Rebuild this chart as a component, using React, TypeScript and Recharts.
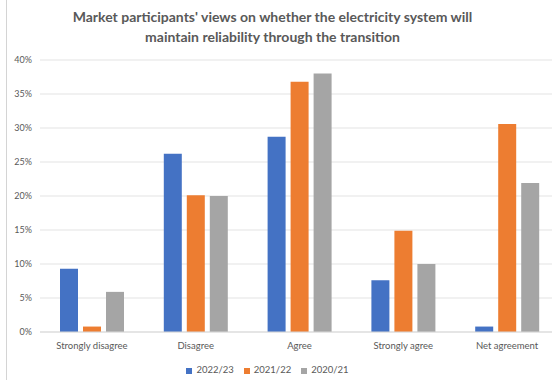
import { Bar, BarChart, CartesianGrid, Legend, XAxis, YAxis } from 'recharts'

const categories = ['Strongly disagree', 'Disagree', 'Agree', 'Strongly agree', 'Net agreement']
const seriesNames = ['2022/23', '2021/22', '2020/21']
const fy2223 = [0.093, 0.262, 0.287, 0.076, 0.008]
const fy2122 = [0.008, 0.201, 0.368, 0.149, 0.306]
const fy2021 = [0.059, 0.2, 0.38, 0.1, 0.219]
const yTicks = [0, 0.05, 0.1, 0.15, 0.2, 0.25, 0.3, 0.35, 0.4]

const data = categories.map((name, i) => ({
  name,
  '2022/23': fy2223[i],
  '2021/22': fy2122[i],
  '2020/21': fy2021[i],
}))

const font = 'Lato, "Noto Sans", sans-serif'
const textColor = '#595959'

export default function App() {
  return (
    <div style={{ position: 'absolute', left: 0, top: 0, width: 552, height: 380, background: '#fff', fontFamily: font }}>
      <div style={{ position: 'absolute', left: 6, top: 0, width: 1, height: 380, background: '#d4d4d4' }} />
      <div
        style={{
          position: 'absolute',
          left: 0,
          top: 7,
          width: 545,
          textAlign: 'center',
          fontSize: 14,
          fontWeight: 'bold',
          lineHeight: '20px',
          color: textColor,
        }}
      >
        Market participants' views on whether the electricity system will
        <br />
        maintain reliability through the transition
      </div>
      <BarChart
        width={552}
        height={380}
        data={data}
        margin={{ top: 60, right: -7, left: 0, bottom: 0 }}
        barSize={18}
        barGap={5}
      >
        <CartesianGrid vertical={false} stroke="#e3e3e3" />
        <XAxis
          dataKey="name"
          height={48}
          tickLine={false}
          axisLine={{ stroke: '#d9d9d9' }}
          tickMargin={4}
          interval={0}
          tick={{ fontSize: 9.5, fill: textColor, fontFamily: font }}
        />
        <YAxis
          width={40}
          domain={[0, 0.4]}
          ticks={yTicks}
          tickLine={false}
          axisLine={false}
          tickFormatter={(v: number) => `${Math.round(v * 100)}%`}
          tick={{ fontSize: 9, fill: textColor, fontFamily: font }}
        />
        <Legend
          layout="horizontal"
          verticalAlign="middle"
          align="center"
          iconType="square"
          iconSize={6}
          itemSorter={(item: any) => seriesNames.indexOf(String(item.value))}
          wrapperStyle={{ top: 364, left: 0, width: 545, fontSize: 9.5, fontFamily: font }}
          formatter={(value: string) => <span style={{ color: textColor }}>{value}</span>}
        />
        <Bar dataKey="2022/23" fill="#4472C4" isAnimationActive={false} />
        <Bar dataKey="2021/22" fill="#ED7D31" isAnimationActive={false} />
        <Bar dataKey="2020/21" fill="#A5A5A5" isAnimationActive={false} />
      </BarChart>
    </div>
  )
}
